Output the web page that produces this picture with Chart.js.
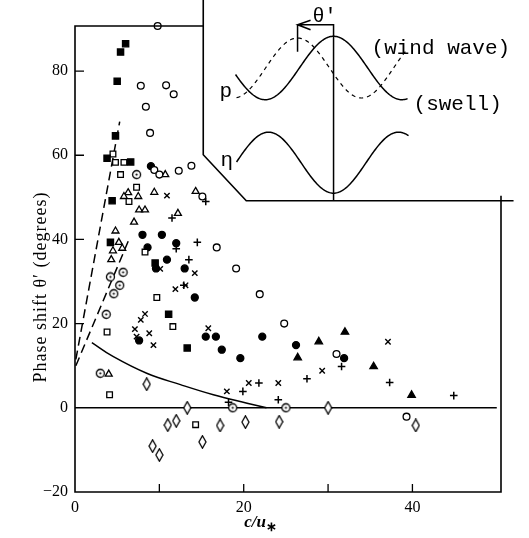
<!DOCTYPE html>
<html>
<head>
<meta charset="utf-8">
<script src="https://cdn.jsdelivr.net/npm/chart.js@4.4.1/dist/chart.umd.min.js"></script>
<style>
html, body { margin: 0; padding: 0; background: #fff; }
</style>
</head>
<body>
<canvas id="myChart" width="529" height="538"></canvas>
<script>
//Phase shift vs c/u*
//each series: [c/u*, phase shift]

const openCircles = [[9.8, 90.7], [7.8, 76.5], [10.8, 76.6], [11.7, 74.5], [8.4, 71.5], [8.9, 65.3], [9.4, 56.5], [10.0, 55.4], [12.3, 56.3], [13.8, 57.5], [15.1, 50.2], [16.8, 38.1], [19.1, 33.1], [21.9, 27.0], [24.8, 20.0], [31.0, 12.8], [39.3, -2.1]];
const dotCircles = [[7.3, 55.4], [5.7, 32.2], [4.2, 31.1], [5.3, 29.1], [4.6, 27.1], [3.7, 22.2], [3.0, 8.2], [18.7, 0], [25.0, 0]];
const filledSquares = [[6.0, 86.5], [5.4, 84.5], [5.0, 77.6], [4.8, 64.6], [3.8, 59.3], [6.6, 58.4], [4.4, 49.2], [4.2, 39.3], [9.5, 34.4], [11.1, 22.2], [13.3, 14.2]];
const openSquares = [[4.5, 60.3], [4.8, 58.3], [5.8, 58.3], [5.4, 55.4], [7.3, 52.4], [6.4, 49.0], [8.3, 37.0], [9.7, 26.2], [11.6, 19.3], [3.8, 18.0], [4.1, 3.1], [14.3, -4.0]];
const filledCircles = [[9.0, 57.4], [8.0, 41.1], [10.3, 41.1], [8.6, 38.1], [12.0, 39.1], [10.9, 35.2], [9.6, 33.1], [13.0, 33.1], [14.2, 26.2], [7.6, 16.0], [15.5, 16.9], [16.7, 16.9], [17.4, 13.8], [19.6, 11.8], [22.2, 16.9], [26.2, 14.9], [31.9, 11.8]];
const openTriangles = [[10.7, 55.4], [6.3, 51.1], [5.8, 50.2], [7.5, 50.2], [9.4, 51.2], [14.3, 51.4], [7.6, 47.0], [8.3, 47.0], [12.2, 46.2], [7.0, 44.1], [4.8, 42.0], [5.2, 39.3], [5.6, 37.9], [4.5, 37.3], [4.3, 35.2], [4.0, 8.0]];
const filledTriangles = [[28.9, 15.7], [26.4, 11.9], [32.0, 18.0], [35.4, 9.8], [39.9, 3.0]];
const crosses = [[10.9, 50.4], [10.1, 33.0], [14.2, 32.0], [11.9, 28.2], [13.1, 29.1], [7.8, 20.9], [8.3, 22.3], [7.1, 18.7], [8.8, 17.7], [7.3, 16.9], [9.3, 14.9], [15.8, 18.9], [18.0, 3.9], [20.6, 5.9], [24.1, 5.9], [29.3, 8.8], [37.1, 15.7]];
const pluses = [[15.5, 49.0], [11.5, 45.1], [12.0, 37.8], [14.5, 39.3], [13.5, 35.2], [12.9, 29.1], [19.9, 3.9], [21.8, 5.9], [24.1, 1.9], [18.2, 1.3], [27.5, 6.9], [31.6, 9.8], [37.3, 6.0], [44.9, 2.9]];
const diamonds = [[8.5, 5.6], [13.3, 0], [11.0, -4.1], [12.0, -3.1], [15.1, -8.1], [9.2, -9.1], [10.0, -11.2], [17.2, -4.2], [20.2, -3.4], [24.2, -3.3], [30.0, 0], [40.4, -4.2]];

//lines
const dashUpper = [[0.1, 11.5], [5.3, 68.0]];
const dashLower = [[0.1, 10.0], [6.4, 40.0]];
const solidCurve = [[2.0, 15.5], [4.5, 12.2], [8.5, 8.2], [12.5, 5.5], [16.4, 3.1], [20.4, 1.1], [22.7, 0]];
const zeroLine = [[0, 0], [50, 0]];

//axes
const xRange = [0, 50.5];
const yRange = [-20, 90.7];
const xTickStep = 10;
const yTickStep = 20;

const serif = "'Liberation Serif', 'Times New Roman', serif";
const mono = "'Liberation Mono', 'Courier New', monospace";

function ToPoints (_pairs)
{
    return _pairs.map(p => ({ x: p[0], y: p[1] }));
}

function MakeDotCircle ()
{
    var c = document.createElement('canvas');
    c.width = 11;
    c.height = 11;
    var g = c.getContext('2d');
    g.fillStyle = '#fff';
    g.beginPath();
    g.arc(5.5, 5.5, 4, 0, 2 * Math.PI);
    g.fill();
    g.lineWidth = 1.3;
    g.strokeStyle = '#000';
    g.stroke();
    g.fillStyle = '#000';
    g.beginPath();
    g.arc(5.5, 5.5, 1.1, 0, 2 * Math.PI);
    g.fill();
    return c;
}

function MakeDiamond ()
{
    var c = document.createElement('canvas');
    c.width = 9;
    c.height = 14;
    var g = c.getContext('2d');
    g.beginPath();
    g.moveTo(4.5, 0.8);
    g.lineTo(8, 7);
    g.lineTo(4.5, 13.2);
    g.lineTo(1, 7);
    g.closePath();
    g.fillStyle = '#fff';
    g.fill();
    g.lineWidth = 1.3;
    g.strokeStyle = '#000';
    g.stroke();
    return c;
}

function MarkerSet (_pairs, _style, _radius, _filled, _width)
{
    return {
        data: ToPoints(_pairs),
        showLine: false,
        pointStyle: _style,
        pointRadius: _radius,
        pointBorderWidth: _width || 1.3,
        pointBorderColor: '#000',
        pointBackgroundColor: _filled ? '#000' : '#fff',
        clip: false
    };
}

function LineSet (_pairs, _dash, _tension)
{
    return {
        data: ToPoints(_pairs),
        showLine: true,
        borderColor: '#000',
        borderWidth: 1.5,
        borderDash: _dash,
        tension: _tension,
        pointRadius: 0,
        fill: false
    };
}

//frame, inward ticks, the inset sketch and the axis titles
const extrasPlugin =
{
    id: 'extras',
    afterDraw (chart)
    {
        const ctx = chart.ctx;
        const xs = chart.scales.x;
        const ys = chart.scales.y;
        const area = chart.chartArea;

        ctx.save();
        ctx.strokeStyle = '#000';
        ctx.fillStyle = '#000';
        ctx.lineWidth = 1.6;

        //inset anchor: reference line meets the inset floor
        const ax = xs.getPixelForValue(30.65);
        const ay = ys.getPixelForValue(49.2);

        //frame
        ctx.beginPath();
        ctx.moveTo(ax - 130.3, 0);
        ctx.lineTo(ax - 130.3, ay - 46);
        ctx.lineTo(ax - 87.3, ay);
        ctx.lineTo(ax + 180, ay);
        ctx.moveTo(area.right, ay - 5);
        ctx.lineTo(area.right, area.bottom);
        ctx.lineTo(area.left, area.bottom);
        ctx.lineTo(area.left, area.top);
        ctx.lineTo(ax - 130.3, area.top);
        ctx.stroke();

        //inward ticks
        ctx.lineWidth = 1.3;
        ctx.beginPath();
        xs.ticks.forEach(t => {
            if (t.value <= xRange[0] || t.value >= 50) return;
            const px = xs.getPixelForValue(t.value);
            ctx.moveTo(px, area.bottom);
            ctx.lineTo(px, area.bottom - 8);
        });
        ys.ticks.forEach(t => {
            if (t.value <= 0) return;
            const py = ys.getPixelForValue(t.value);
            ctx.moveTo(area.left, py);
            ctx.lineTo(area.left + 9, py);
        });
        ctx.stroke();

        //inset: reference line, arrow
        ctx.lineWidth = 1.5;
        ctx.beginPath();
        ctx.moveTo(ax, ay);
        ctx.lineTo(ax, ay - 176);
        ctx.lineTo(ax - 36, ay - 176);
        ctx.moveTo(ax - 36, ay - 149);
        ctx.lineTo(ax - 36, ay - 176);
        ctx.moveTo(ax - 23, ay - 180.5);
        ctx.lineTo(ax - 36, ay - 176);
        ctx.lineTo(ax - 23, ay - 171);
        ctx.stroke();

        //inset: pressure (wind wave) and surface
        ctx.beginPath();
        for (var dx = -98; dx <= 74; dx++)
        {
            const y = ay - 132.7 - 31.7 * Math.cos(2 * Math.PI * dx / 136.7);
            if (dx === -98) ctx.moveTo(ax + dx, y); else ctx.lineTo(ax + dx, y);
        }
        for (var dx2 = -97; dx2 <= 75; dx2++)
        {
            const y = ay - 38 + 30.5 * Math.cos(2 * Math.PI * dx2 / 130);
            if (dx2 === -97) ctx.moveTo(ax + dx2, y); else ctx.lineTo(ax + dx2, y);
        }
        ctx.stroke();

        //inset: pressure (swell), dashed
        ctx.setLineDash([4, 4]);
        ctx.lineWidth = 1.2;
        ctx.beginPath();
        for (var dx3 = -97; dx3 <= 72; dx3++)
        {
            const y = ay - 132.7 - 30 * Math.cos(2 * Math.PI * (dx3 + 36) / 128);
            if (dx3 === -97) ctx.moveTo(ax + dx3, y); else ctx.lineTo(ax + dx3, y);
        }
        ctx.stroke();
        ctx.setLineDash([]);

        //inset labels
        ctx.textBaseline = 'alphabetic';
        ctx.textAlign = 'left';
        ctx.font = '21px ' + mono;
        ctx.fillText('(wind wave)', ax + 38, ay - 147);
        ctx.fillText('(swell)', ax + 80, ay - 91);
        ctx.fillText('p', ax - 114, ay - 104);
        ctx.fillText('\u03b7', ax - 113, ay - 35);
        ctx.font = '20px ' + mono;
        ctx.fillText('\u03b8\'', ax - 21, ay - 179);

        //axis titles
        ctx.save();
        ctx.translate(46, 287);
        ctx.rotate(-Math.PI / 2);
        ctx.textAlign = 'center';
        ctx.font = '18px ' + serif;
        ctx.letterSpacing = '1px';
        ctx.fillText('Phase shift \u03b8\u2032 (degrees)', 0, 0);
        ctx.restore();

        ctx.textAlign = 'left';
        ctx.font = 'bold italic 17px ' + serif;
        const base = 'c/u';
        const w = ctx.measureText(base).width;
        ctx.fillText(base, 258 - w / 2 - 3, 527);
        ctx.font = 'bold 13px ' + serif;
        ctx.fillText('\u2217', 258 + w / 2 - 3, 531);

        ctx.restore();
    }
};

function DrawGraph ()
{
    const data =
    {
        datasets:
        [
            MarkerSet(openCircles, 'circle', 3.4, false),
            MarkerSet(dotCircles, MakeDotCircle(), 4, false),
            MarkerSet(filledSquares, 'rect', 4.4, true),
            MarkerSet(openSquares, 'rect', 4.0, false),
            MarkerSet(filledCircles, 'circle', 3.5, true),
            MarkerSet(openTriangles, 'triangle', 4.0, false),
            MarkerSet(filledTriangles, 'triangle', 4.3, true),
            MarkerSet(crosses, 'crossRot', 3.8, false, 1.4),
            MarkerSet(pluses, 'cross', 3.8, false, 1.5),
            MarkerSet(diamonds, MakeDiamond(), 5, false),
            LineSet(dashUpper, [9, 5], 0),
            LineSet(dashLower, [9, 5], 0),
            LineSet(solidCurve, [], 0.4),
            LineSet(zeroLine, [], 0)
        ]
    };

    const config =
    {
        type: 'scatter',
        data: data,
        plugins: [extrasPlugin],
        options:
        {
            responsive: false,
            animation: false,
            layout: { padding: { left: 0, right: 28, top: 26, bottom: 0 } },
            plugins:
            {
                legend: { display: false },
                tooltip: { enabled: false }
            },
            scales:
            {
                x:
                {
                    type: 'linear',
                    min: xRange[0],
                    max: xRange[1],
                    afterFit: s => { s.height = 46; },
                    grid: { display: false, drawTicks: false },
                    border: { display: false },
                    ticks:
                    {
                        stepSize: xTickStep,
                        includeBounds: false,
                        autoSkip: false,
                        maxRotation: 0,
                        padding: 6,
                        color: '#000',
                        font: { family: serif, size: 16 },
                        callback: v => (v % 20 === 0 ? v : '')
                    }
                },
                y:
                {
                    type: 'linear',
                    min: yRange[0],
                    max: yRange[1],
                    afterFit: s => { s.width = 75; },
                    grid: { display: false, drawTicks: false },
                    border: { display: false },
                    ticks:
                    {
                        stepSize: yTickStep,
                        includeBounds: false,
                        padding: 7,
                        color: '#000',
                        font: { family: serif, size: 16 },
                        callback: v => (v < 0 ? '\u2212' + Math.abs(v) : v)
                    }
                }
            }
        }
    };

    const ctx = document.getElementById('myChart').getContext('2d');
    if (ctx) {
        const myChart = new Chart(ctx, config);
    } else {
        console.error('Element with ID "myChart" not found.');
    }
}

DrawGraph();
</script>
</body>
</html>
